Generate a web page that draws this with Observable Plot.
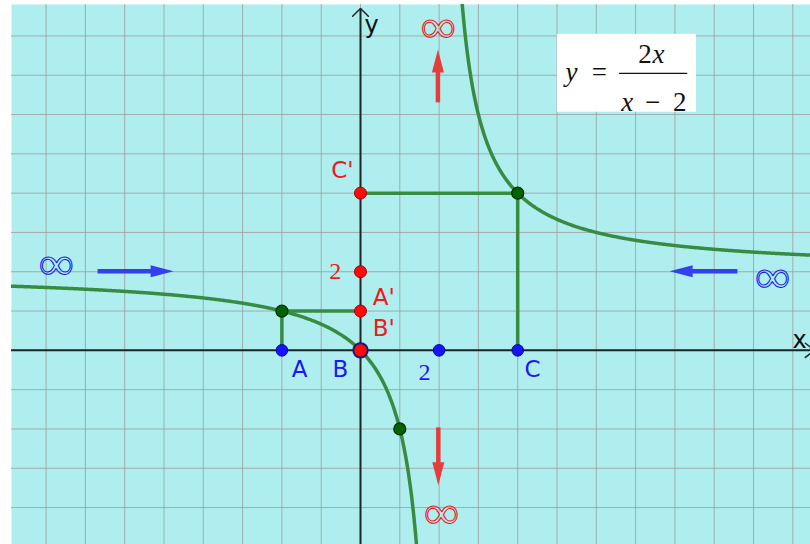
<!DOCTYPE html>
<html><head><meta charset="utf-8">
<script src="https://cdn.jsdelivr.net/npm/d3@7"></script>
<script src="https://cdn.jsdelivr.net/npm/@observablehq/plot@0.6"></script>
<style>body{margin:0;background:#fff;} svg{display:block}</style>
</head><body><div id="chart"></div>
<script>
// Function plotted: y = 2x / (x - 2)
const f = x => 2 * x / (x - 2);
const leftBranchX = d3.range(-9.2, 1.47, 0.02);
const rightBranchX = d3.range(2.56, 11.6, 0.02);

// Construction points
const greenX = [-2, 4, 1];
const greenY = [1, 4, -2];
const blueX = [-2, 0, 2, 4];
const blueY = [0, 0, 0, 0];
const redX = [0, 0, 0];
const redY = [1, 2, 4];
const originX = [0];
const originY = [0];

// Guide segments
const segAX = [-2, -2, 0], segAY = [0, 1, 1];
const segCX = [4, 4, 0], segCY = [0, 4, 4];

// Labels
const blueLabels = ["A", "B", "C"];
const blueLabelX = [-1.55, -0.51, 4.38];
const blueLabelY = [-0.48, -0.48, -0.48];
const redLabels = ["C'", "A'", "B'"];
const redLabelX = [-0.46, 0.59, 0.59];
const redLabelY = [4.58, 1.35, 0.56];
const numLabels = ["2", "2"];
const numLabelX = [1.63, -0.64];
const numLabelY = [-0.56, 2.01];
const numLabelColor = ["#1a1aee", "#ee1a1a"];

const infX = [1.98, 2.06, -7.74, 10.48];
const infY = [8.22, -4.15, 2.19, 1.86];
const infColor = ["#ee1111", "#ee1111", "#1111ee", "#1111ee"];

// Grid (one unit)
const gridX = d3.range(-8, 12);
const gridY = d3.range(-4, 9);

const bx = x => x;
const line = (xs, ys) => xs.map((x, i) => ({x, y: ys[i]}));

const head = (dx, dy) => ({draw(ctx) {
  const L = 23, W = 6;
  ctx.moveTo(dx * L, dy * L);
  ctx.lineTo(-dy * W, dx * W);
  ctx.lineTo(dy * W, -dx * W);
  ctx.closePath();
}});

const redC = "#e63c3c", blueC = "#3340ee";
const curveC = "#388c42";

const chart = Plot.plot({
  width: 810, height: 544,
  marginLeft: 11, marginTop: 4, marginRight: 0, marginBottom: 0,
  x: {domain: [-8.88, 11.45], axis: null},
  y: {domain: [-4.94, 8.80], axis: null},
  marks: [
    Plot.frame({fill: "#afeeee", stroke: "none"}),
    Plot.ruleX(gridX, {stroke: "#9c9c9c", strokeWidth: 1, strokeOpacity: 0.8}),
    Plot.ruleY(gridY, {stroke: "#9c9c9c", strokeWidth: 1, strokeOpacity: 0.8}),
    Plot.ruleY([0], {stroke: "#1e2424", strokeWidth: 2}),
    Plot.ruleX([0], {stroke: "#1e2424", strokeWidth: 2, y1: -4.94, y2: 8.68}),
    Plot.line(line([-0.2, 0, 0.2], [8.5, 8.7, 8.5]), {x: "x", y: "y", stroke: "#1e2424", strokeWidth: 1.5}),
    Plot.line(line([11.32, 11.55, 11.32], [0.18, 0, -0.18]), {x: "x", y: "y", stroke: "#1e2424", strokeWidth: 1.5, clip: true}),
    // formula box
    Plot.rect([0], {x1: 5.01, x2: 8.55, y1: 6.06, y2: 8.04, fill: "white"}),
    Plot.text(["=", "2", "\u2212", "2"], {x: [6.08, 7.24, 7.43, 8.12], y: [7.07, 7.53, 6.31, 6.31], text: d => d,
      fontFamily: "Liberation Serif", fontSize: 27, fill: "#111"}),
    Plot.text(["y", "x", "x"], {x: [5.37, 7.58, 6.79], y: [7.07, 7.53, 6.31], text: d => d,
      fontFamily: "Liberation Serif", fontStyle: "italic", fontSize: 27, fill: "#111"}),
    Plot.line(line([6.59, 8.30], [7.05, 7.05]), {x: "x", y: "y", stroke: "#111", strokeWidth: 1.3}),
    // guide segments
    Plot.line(line(segAX, segAY), {x: "x", y: "y", stroke: curveC, strokeWidth: 3.5, strokeLinejoin: "miter"}),
    Plot.line(line(segCX, segCY), {x: "x", y: "y", stroke: curveC, strokeWidth: 3.5, strokeLinejoin: "miter"}),
    // curve
    Plot.line(leftBranchX, {x: bx, y: f, stroke: curveC, strokeWidth: 3.5, clip: true}),
    Plot.line(rightBranchX, {x: bx, y: f, stroke: curveC, strokeWidth: 3.5, clip: true}),
    // points
    Plot.dot(line(blueX, blueY), {x: "x", y: "y", r: 5.8, fill: "#1414ff", stroke: "#0a0a80", strokeWidth: 1}),
    Plot.dot(line(originX, originY), {x: "x", y: "y", r: 7.2, fill: "#ff0a0a", stroke: "#1a1a7a", strokeWidth: 2}),
    Plot.dot(line(redX, redY), {x: "x", y: "y", r: 6, fill: "#ff0a0a", stroke: "#a00000", strokeWidth: 1}),
    Plot.dot(line(greenX, greenY), {x: "x", y: "y", r: 6, fill: "#006400", stroke: "#002a00", strokeWidth: 1.2}),
    // labels
    Plot.text(blueLabels, {x: blueLabelX, y: blueLabelY, text: d => d, fontFamily: "DejaVu Sans", fontSize: 23, fill: "#1a1aee"}),
    Plot.text(redLabels, {x: redLabelX, y: redLabelY, text: d => d, fontFamily: "DejaVu Sans", fontSize: 23, fill: "#ee1a1a"}),
    Plot.text(numLabels, {x: numLabelX, y: numLabelY, text: d => d, fontFamily: "Liberation Serif", fontSize: 24, fill: (d, i) => numLabelColor[i]}),
    Plot.text(["y", "x"], {x: [0.28, 11.17], y: [8.27, 0.25], text: d => d, fontFamily: "DejaVu Sans", fontSize: 24, fill: "#111"}),
    // infinity signs
    Plot.text(infX, {x: infX, y: infY, text: () => "\u221e", fontFamily: "Liberation Serif", fontSize: 46,
      fill: "none", stroke: (d, i) => infColor[i], strokeWidth: 1}),
    // arrows
    Plot.link([0], {x1: 1.97, x2: 1.97, y1: 6.31, y2: 7.1, stroke: redC, strokeWidth: 4.5}),
    Plot.dot([0], {x: 1.97, y: 7.07, symbol: head(0, -1), r: 5, fill: redC, stroke: "none"}),
    Plot.link([0], {x1: 1.98, x2: 1.98, y1: -1.96, y2: -2.88, stroke: redC, strokeWidth: 4.5}),
    Plot.dot([0], {x: 1.98, y: -2.85, symbol: head(0, 1), r: 5, fill: redC, stroke: "none"}),
    Plot.link([0], {x1: -6.69, x2: -5.30, y1: 2.01, y2: 2.01, stroke: blueC, strokeWidth: 4.5}),
    Plot.dot([0], {x: -5.34, y: 2.01, symbol: head(1, 0), r: 5, fill: blueC, stroke: "none"}),
    Plot.link([0], {x1: 9.59, x2: 8.42, y1: 2.01, y2: 2.01, stroke: blueC, strokeWidth: 4.5}),
    Plot.dot([0], {x: 8.45, y: 2.01, symbol: head(-1, 0), r: 5, fill: blueC, stroke: "none"})
  ]
});
d3.select(chart).selectAll("text").filter(function() { return this.textContent === "\u221e"; })
  .attr("textLength", 35).attr("lengthAdjust", "spacingAndGlyphs");
document.getElementById("chart").append(chart);
</script>
</body></html>
